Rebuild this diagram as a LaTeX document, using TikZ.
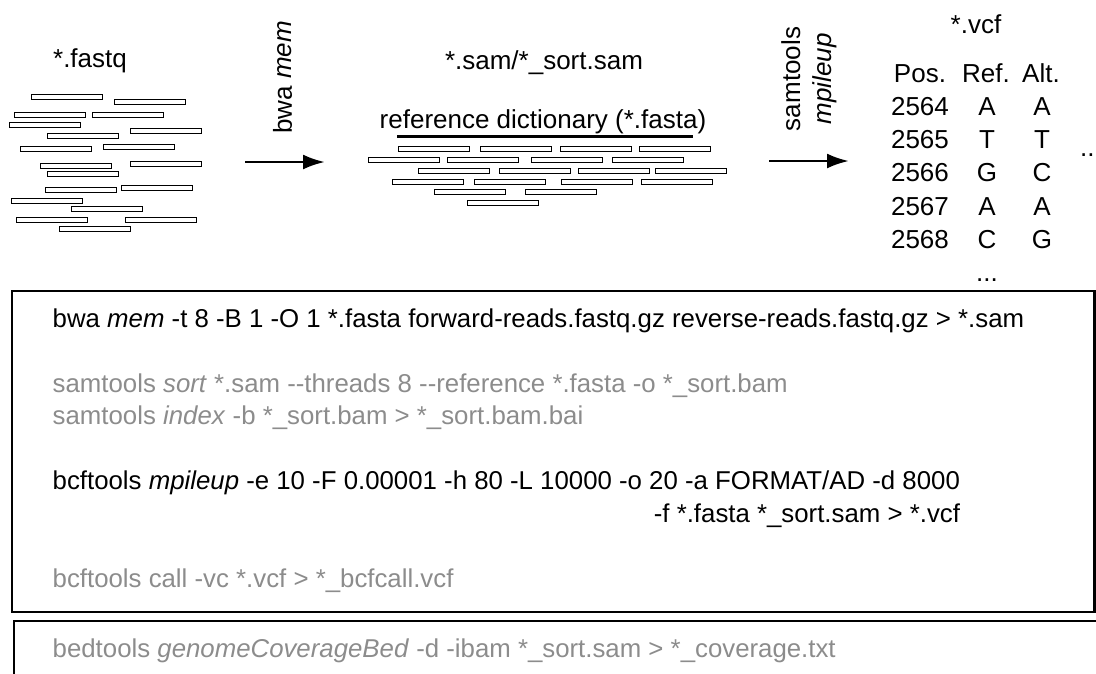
\documentclass[tikz,border=0pt]{standalone}
\usepackage{fontspec}
\setmainfont{Liberation Sans}[Ligatures=TeXOff]
\usetikzlibrary{arrows.meta}

\begin{document}
\begin{tikzpicture}[x=1pt,y=-1pt]
% Styles
\tikzstyle{lecture}=[draw,line width=0.9pt,minimum width=71pt,minimum height=4.5pt,inner sep=0pt]
\tikzstyle{fleche}=[-{Latex[length=22pt,width=15pt]},line width=2.8pt]
\tikzstyle{etiquette}=[font=\fontsize{26}{31}\selectfont,inner sep=0pt]
\tikzstyle{cellule}=[etiquette,anchor=base]
\tikzstyle{commande}=[font=\fontsize{25.8}{32.5}\selectfont,anchor=base west,inner sep=0pt]
\tikzstyle{grise}=[text=black!45]
\tikzstyle{cadre}=[line width=2.7pt]
% Dimensions
\def\Marge{52.5}
\def\Interligne{32.5}
\def\Rangee{33.3}
\useasboundingbox (0,0) rectangle (1096,673);
% Lectures (*.fastq)
\node[cellule] (fastq) at (90,67) {*.fastq};
\foreach \x/\y [count=\i] in {66.5/97,150/102,50/115,128/115,45/125,165.5/131,
  82.5/136,56/149,139/147,75.5/166,166/164,83/174,81/190,156.5/188,46.5/201,
  106.5/209,52/220,161/220,95/229}
  \node[lecture] (fq\i) at (\x,\y) {};
% Alignement (*.sam)
\node[cellule] (sam) at (544,69) {*.sam/*\_sort.sam};
\node[cellule] (refdict) at (543,128) {reference dictionary (*.fasta)};
\draw[line width=3pt] (397,136) -- (693,136);
\foreach \x/\y [count=\i] in {434/149,516/149,596/149,675/149,
  404/160,483/160,567/160,648/160,
  454/171,535/171,614/171,691/171,
  428/182,510/182,597/182,677/182,
  470/192,561/192,503/203}
  \node[lecture] (sm\i) at (\x,\y) {};
% Variants (*.vcf)
\node[cellule] (vcf) at (976,33) {*.vcf};
\node[cellule] (pos) at (920,82) {Pos.};
\node[cellule] (ref) at (986,82) {Ref.};
\node[cellule] (alt) at (1041,82) {Alt.};
\foreach \p/\r/\a [count=\i] in {2564/A/A,2565/T/T,2566/G/C,2567/A/A,2568/C/G} {
  \node[cellule] (pos\i) at (920,{82+\Rangee*\i}) {\p};
  \node[cellule] (ref\i) at (987,{82+\Rangee*\i}) {\r};
  \node[cellule] (alt\i) at (1042,{82+\Rangee*\i}) {\a};
}
\node[cellule] (suitebas) at (987,281) {...};
\node[etiquette,anchor=base west] (suitedroite) at (1080,156) {...};
% Fleches
\coordinate (debA) at (245,162);
\coordinate (finA) at (325,162);
\coordinate (debB) at (769,161);
\coordinate (finB) at (849,161);
\draw[fleche] (debA) -- (finA);
\draw[fleche] (debB) -- (finB);
\node[etiquette,rotate=90] (bwa) at (282.5,77.5) {bwa \textit{mem}};
\node[etiquette,rotate=90,align=center] (samtools) at (809,79) {samtools\\\textit{mpileup}};
% Commandes
\draw[cadre] (12,291) rectangle (1094.5,612);
\draw[cadre] (1120,621) -- (14,621) -- (14,700);
\node[commande] (cmdbwa) at (\Marge,327) {bwa \textit{mem} -t 8 -B 1 -O 1 *.fasta forward-reads.fastq.gz reverse-reads.fastq.gz > *.sam};
\node[commande,grise] (cmdsort) at (\Marge,392) {samtools \textit{sort} *.sam --threads 8 --reference *.fasta -o *\_sort.bam};
\node[commande,grise] (cmdindex) at (\Marge,{392+\Interligne}) {samtools \textit{index} -b *\_sort.bam > *\_sort.bam.bai};
\node[commande] (cmdmpileup) at (\Marge,489.5) {bcftools \textit{mpileup} -e 10 -F 0.00001 -h 80 -L 10000 -o 20 -a FORMAT/AD -d 8000};
\node[commande,anchor=base east] (cmdmpileupb) at ([yshift=-\Interligne pt]cmdmpileup.base east) {-f *.fasta *\_sort.sam > *.vcf};
\node[commande,grise] (cmdcall) at (\Marge,587) {bcftools call -vc *.vcf > *\_bcfcall.vcf};
\node[commande,grise] (cmdcov) at (\Marge,657) {bedtools \textit{genomeCoverageBed} -d -ibam *\_sort.sam > *\_coverage.txt};
\end{tikzpicture}
\end{document}
